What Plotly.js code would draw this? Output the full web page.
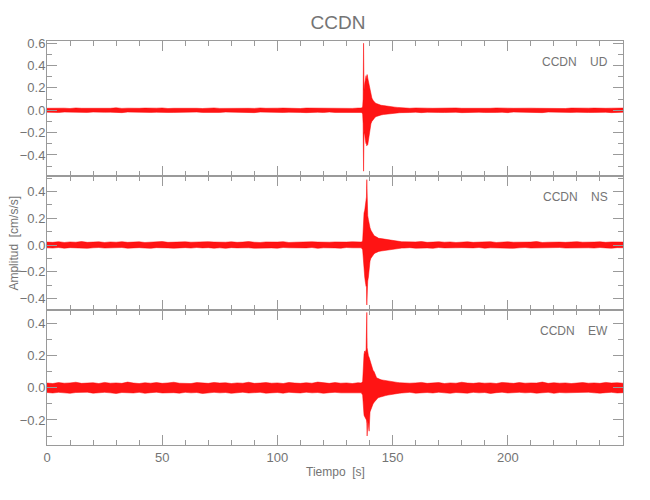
<!DOCTYPE html>
<html>
<head>
<meta charset="utf-8">
<script src="https://cdn.plot.ly/plotly-3.0.1.min.js"></script>
<style>html,body{margin:0;padding:0;background:#fff;}#chart{width:650px;height:500px;}</style>
</head>
<body>
<div id="chart"></div>
<script>
// ---- time samples (s) ----
const tiempoA = [0,2.5,5,7.5,10,12.5,15,17.5,20,22.5,
  25,27.5,30,32.5,35,37.5,40,42.5,45,47.5,
  50,52.5,55,57.5,60,62.5,65,67.5,70,72.5,
  75,77.5,80,82.5,85,87.5,90,92.5,95,97.5,
  100,102.5,105,107.5,110,112.5,115,117.5,120,122.5,
  125,127.5,130,132.5,135];
const tiempoEvento = [135.8,136.4,137.0,137.2,137.4,137.6,137.9,138.2,138.5,138.65,
  138.8,138.95,139.2,139.5,139.8,140.2,140.6,141,141.5,142,
  142.5,143,143.5,144,145,146,147,148,149,150,
  151,152,153,154];
const tiempoB = [155,157.5,160,162.5,165,167.5,170,172.5,175,177.5,
  180,182.5,185,187.5,190,192.5,195,197.5,200,202.5,
  205,207.5,210,212.5,215,217.5,220,222.5,225,227.5,
  230,232.5,235,237.5,240,242.5,245,247.5,250];

// ---- UD envelope (cm/s/s) ----
const udSupA = [.018,.020,.017,.019,.016,.021,.018,.017,.020,.016,
  .019,.018,.022,.017,.019,.016,.018,.020,.017,.019,
  .021,.016,.018,.019,.017,.020,.018,.016,.019,.021,
  .017,.018,.020,.016,.019,.018,.017,.021,.018,.016,
  .019,.020,.017,.018,.016,.020,.019,.017,.018,.021,
  .016,.019,.018,.017,.020];
const udInfA = [-.017,-.019,-.020,-.016,-.018,-.021,-.017,-.019,-.016,-.020,
  -.018,-.017,-.019,-.021,-.016,-.018,-.020,-.017,-.019,-.018,
  -.016,-.020,-.019,-.017,-.021,-.018,-.016,-.019,-.020,-.017,
  -.019,-.016,-.018,-.020,-.017,-.019,-.021,-.016,-.018,-.019,
  -.017,-.020,-.018,-.016,-.019,-.021,-.017,-.018,-.020,-.016,
  -.019,-.018,-.017,-.020,-.018];
const udSupEv = [.019,.020,.030,.10,.600,.18,.24,.28,.31,.27,
  .30,.32,.29,.26,.22,.17,.13,.11,.09,.075,
  .065,.06,.055,.05,.045,.042,.038,.035,.032,.03,
  .028,.026,.024,.022];
const udInfEv = [-.018,-.020,-.030,-.12,-.545,-.20,-.22,-.27,-.30,-.28,
  -.32,-.30,-.31,-.27,-.21,-.16,-.12,-.10,-.085,-.07,
  -.06,-.055,-.05,-.045,-.042,-.038,-.035,-.032,-.03,-.028,
  -.026,-.024,-.022,-.021];
const udSupB = [.020,.018,.021,.017,.019,.018,.020,.016,.019,.021,
  .018,.017,.020,.019,.016,.018,.021,.017,.019,.018,
  .020,.016,.019,.018,.017,.021,.018,.019,.016,.020,
  .018,.017,.019,.020,.016,.018,.019,.017,.020];
const udInfB = [-.019,-.020,-.017,-.021,-.018,-.016,-.019,-.020,-.017,-.018,
  -.021,-.019,-.016,-.018,-.020,-.017,-.019,-.018,-.021,-.016,
  -.018,-.020,-.017,-.019,-.021,-.016,-.018,-.020,-.017,-.019,
  -.018,-.016,-.020,-.019,-.017,-.018,-.021,-.019,-.017];

// ---- NS envelope ----
const nsSupA = [.022,.020,.025,.019,.023,.021,.026,.020,.022,.024,
  .019,.023,.021,.025,.020,.022,.024,.019,.021,.023,
  .026,.020,.022,.019,.024,.021,.023,.020,.025,.022,
  .019,.021,.024,.020,.022,.026,.021,.019,.023,.020,
  .022,.025,.019,.021,.023,.020,.024,.022,.019,.021,
  .023,.020,.022,.024,.021];
const nsInfA = [-.021,-.023,-.019,-.024,-.020,-.022,-.020,-.025,-.021,-.019,
  -.023,-.020,-.022,-.019,-.024,-.021,-.020,-.023,-.025,-.020,
  -.019,-.022,-.024,-.021,-.020,-.023,-.019,-.022,-.020,-.024,
  -.021,-.025,-.020,-.022,-.019,-.021,-.024,-.023,-.020,-.022,
  -.024,-.019,-.021,-.023,-.020,-.022,-.019,-.025,-.021,-.020,
  -.022,-.024,-.019,-.021,-.023];
const nsSupEv = [.021,.022,.03,.12,.20,.24,.26,.29,.33,.36,
  .49,.30,.22,.19,.15,.13,.11,.10,.08,.07,
  .065,.06,.055,.05,.048,.045,.04,.038,.035,.032,
  .03,.028,.026,.024];
const nsInfEv = [-.022,-.021,-.035,-.10,-.17,-.20,-.24,-.28,-.31,-.30,
  -.45,-.31,-.27,-.24,-.16,-.12,-.10,-.09,-.075,-.065,
  -.06,-.055,-.05,-.048,-.045,-.042,-.04,-.036,-.033,-.03,
  -.028,-.026,-.024,-.023];
const nsSupB = [.024,.021,.023,.026,.020,.022,.025,.021,.023,.019,
  .022,.024,.020,.023,.021,.025,.019,.022,.024,.021,
  .020,.023,.022,.026,.019,.021,.024,.022,.020,.023,
  .025,.021,.019,.022,.024,.020,.023,.021,.022];
const nsInfB = [-.023,-.020,-.024,-.021,-.022,-.025,-.019,-.022,-.024,-.021,
  -.020,-.023,-.022,-.019,-.024,-.021,-.023,-.020,-.022,-.025,
  -.021,-.019,-.023,-.022,-.020,-.024,-.021,-.019,-.023,-.022,
  -.020,-.024,-.021,-.023,-.019,-.022,-.024,-.020,-.021];

// ---- EW envelope ----
const ewSupA = [.030,.027,.033,.029,.031,.035,.028,.030,.032,.027,
  .034,.029,.031,.028,.036,.030,.027,.032,.029,.033,
  .028,.031,.035,.029,.030,.027,.033,.031,.028,.034,
  .030,.032,.027,.031,.029,.035,.028,.030,.033,.029,
  .031,.027,.034,.030,.028,.032,.029,.036,.030,.028,
  .033,.029,.031,.027,.032];
const ewInfA = [-.029,-.032,-.028,-.031,-.034,-.029,-.030,-.027,-.033,-.030,
  -.028,-.031,-.035,-.029,-.030,-.032,-.028,-.034,-.030,-.027,
  -.032,-.029,-.030,-.033,-.028,-.031,-.029,-.035,-.030,-.028,
  -.031,-.029,-.034,-.030,-.027,-.032,-.030,-.028,-.033,-.031,
  -.029,-.033,-.028,-.030,-.032,-.027,-.031,-.029,-.034,-.030,
  -.028,-.031,-.030,-.033,-.029];
const ewSupEv = [.031,.030,.04,.12,.18,.21,.23,.22,.24,.30,
  .47,.25,.21,.20,.19,.17,.155,.13,.11,.10,
  .08,.065,.06,.055,.05,.048,.045,.042,.04,.038,
  .036,.034,.032,.031];
const ewInfEv = [-.030,-.031,-.045,-.10,-.16,-.17,-.18,-.19,-.19,-.20,
  -.22,-.30,-.20,-.24,-.27,-.15,-.13,-.11,-.10,-.09,
  -.08,-.07,-.065,-.06,-.055,-.05,-.048,-.045,-.042,-.04,
  -.037,-.035,-.033,-.032];
const ewSupB = [.032,.029,.031,.034,.028,.030,.033,.027,.031,.029,
  .035,.030,.028,.032,.029,.031,.027,.034,.030,.028,
  .033,.029,.031,.030,.036,.028,.032,.029,.031,.027,
  .030,.033,.029,.031,.028,.034,.030,.032,.029];
const ewInfB = [-.031,-.028,-.033,-.030,-.029,-.032,-.027,-.031,-.034,-.029,
  -.030,-.033,-.028,-.031,-.029,-.035,-.030,-.027,-.032,-.030,
  -.028,-.031,-.029,-.033,-.030,-.028,-.034,-.029,-.031,-.030,
  -.032,-.029,-.027,-.031,-.033,-.030,-.028,-.032,-.030];

const estacion = "CCDN";
const componentes = ["UD", "NS", "EW"];
const xTicks = [0, 50, 100, 150, 200];

// ---- build traces ----
const tiempo = tiempoA.concat(tiempoEvento, tiempoB);
const series = [
  {sup: udSupA.concat(udSupEv, udSupB), inf: udInfA.concat(udInfEv, udInfB), xa: 'x', ya: 'y'},
  {sup: nsSupA.concat(nsSupEv, nsSupB), inf: nsInfA.concat(nsInfEv, nsInfB), xa: 'x2', ya: 'y2'},
  {sup: ewSupA.concat(ewSupEv, ewSupB), inf: ewInfA.concat(ewInfEv, ewInfB), xa: 'x3', ya: 'y3'}
];
const RED = '#ff0000';
const traces = [];
series.forEach(s => {
  traces.push({x: tiempo, y: s.inf, xaxis: s.xa, yaxis: s.ya, type: 'scatter', mode: 'lines',
    line: {color: RED, width: 0.5}, hoverinfo: 'skip'});
  traces.push({x: tiempo, y: s.sup, xaxis: s.xa, yaxis: s.ya, type: 'scatter', mode: 'lines',
    line: {color: RED, width: 0.5}, fill: 'tonexty', fillcolor: 'rgba(255,0,0,0.92)', hoverinfo: 'skip'});
});

const FONT = 'Liberation Sans Narrow, Arial Narrow, sans-serif';
const AX = '#9a9a9a';
const TXT = '#747474';

function xAxis(anchor, labels) {
  return {
    anchor: anchor, domain: [0, 1], range: [0, 250],
    showline: true, linecolor: AX, linewidth: 1, mirror: 'allticks',
    ticks: 'inside', ticklen: 10, tickcolor: AX, tickwidth: 1,
    tickmode: 'array', tickvals: xTicks, ticktext: xTicks.map(String),
    showticklabels: labels, tickfont: {family: FONT, size: 13, color: TXT},
    minor: {dtick: 10, tick0: 0, ticks: 'inside', ticklen: 5, tickcolor: AX, tickwidth: 1, showgrid: false},
    showgrid: false, zeroline: false, fixedrange: true
  };
}
function yAxis(anchor, domain, range) {
  return {
    anchor: anchor, domain: domain, range: range,
    showline: true, linecolor: AX, linewidth: 1, mirror: 'allticks',
    ticks: 'inside', ticklen: 10, tickcolor: AX, tickwidth: 1,
    dtick: 0.2, tick0: 0, tickformat: '.1f',
    tickfont: {family: FONT, size: 13, color: TXT}, ticklabelstandoff: -2,
    minor: {dtick: 0.1, tick0: 0, ticks: 'inside', ticklen: 5, tickcolor: AX, tickwidth: 1, showgrid: false},
    showgrid: false, zeroline: false, fixedrange: true
  };
}

const nb = '\u00a0\u00a0\u00a0\u00a0';
const annFont = {family: FONT, size: 12, color: TXT};
const layout = {
  width: 650, height: 500,
  margin: {l: 47, r: 27, t: 41, b: 55, pad: 0},
  paper_bgcolor: '#ffffff', plot_bgcolor: '#ffffff',
  showlegend: false, hovermode: false,
  title: {text: estacion, x: 0.52, xanchor: 'center', y: 0.955, yanchor: 'middle',
    font: {family: FONT, size: 19, color: TXT}},
  xaxis: xAxis('y', false),
  xaxis2: xAxis('y2', false),
  xaxis3: xAxis('y3', true),
  yaxis: yAxis('x', [0.6667, 1], [-0.585, 0.62]),
  yaxis2: yAxis('x2', [0.3333, 0.6667], [-0.49, 0.52]),
  yaxis3: yAxis('x3', [0, 0.3333], [-0.356, 0.483]),
  annotations: [
    {text: estacion + nb + componentes[0], xref: 'paper', yref: 'paper', x: 0.977, y: 0.947,
      xanchor: 'right', yanchor: 'middle', showarrow: false, font: annFont},
    {text: estacion + nb + componentes[1], xref: 'paper', yref: 'paper', x: 0.977, y: 0.613,
      xanchor: 'right', yanchor: 'middle', showarrow: false, font: annFont},
    {text: estacion + nb + componentes[2], xref: 'paper', yref: 'paper', x: 0.977, y: 0.282,
      xanchor: 'right', yanchor: 'middle', showarrow: false, font: annFont},
    {text: 'Amplitud\u00a0\u00a0[cm/s/s]', xref: 'paper', yref: 'paper', x: -0.058, y: 0.5,
      xanchor: 'center', yanchor: 'middle', textangle: -90, showarrow: false, font: annFont},
    {text: 'Tiempo\u00a0\u00a0[s]', xref: 'paper', yref: 'paper', x: 0.501, y: -0.066,
      xanchor: 'center', yanchor: 'middle', showarrow: false, font: annFont}
  ]
};

Plotly.newPlot('chart', traces, layout, {staticPlot: true, displayModeBar: false});
</script>
</body>
</html>
